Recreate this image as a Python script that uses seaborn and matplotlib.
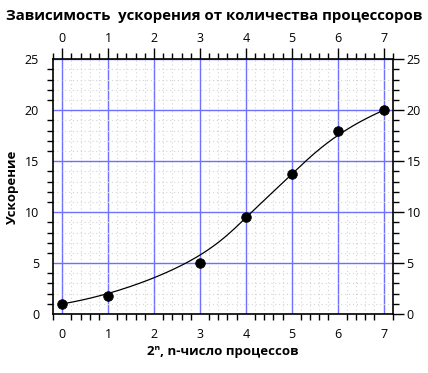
import numpy as np
import pandas as pd
import matplotlib
matplotlib.use("Agg")
import matplotlib.pyplot as plt
import seaborn as sns
from matplotlib.ticker import MultipleLocator

# data
n_values = [0, 1, 3, 4, 5, 6, 7]
speedup = [1.0, 1.75, 5.0, 9.5, 13.7, 18.0, 20.0]
title = "Зависимость  ускорения от количества процессоров"
xlabel = "2ⁿ, n-число процессов"
ylabel = "Ускорение"

sns.set_theme(style="white")
plt.rcParams['font.family'] = ['Open Sans', 'DejaVu Sans']


def bspline(points, k=3, num=400):
    """Clamped uniform B-spline using the data points as control points."""
    P = np.asarray(points, float)
    n = len(P)
    t = np.concatenate([np.zeros(k + 1), np.arange(1, n - k), np.full(k + 1, n - k)]).astype(float)
    us = np.linspace(0, n - k, num)
    us[-1] -= 1e-9
    out = []
    for u in us:
        N = np.array([1.0 if t[i] <= u < t[i + 1] else 0.0 for i in range(len(t) - 1)])
        for d in range(1, k + 1):
            Nn = np.zeros(len(t) - 1 - d)
            for i in range(len(Nn)):
                a = 0.0 if t[i + d] == t[i] else (u - t[i]) / (t[i + d] - t[i]) * N[i]
                b = 0.0 if t[i + d + 1] == t[i + 1] else (t[i + d + 1] - u) / (t[i + d + 1] - t[i + 1]) * N[i + 1]
                Nn[i] = a + b
            N = Nn
        out.append(N @ P)
    return np.array(out)


c = bspline(np.column_stack([n_values, speedup]))
curve = pd.DataFrame({"x": c[:, 0], "y": c[:, 1]})
pts = pd.DataFrame({"x": n_values, "y": speedup})

fig = plt.figure(figsize=(4.28, 3.73), dpi=100)
ax = fig.add_axes([0.1238, 0.158, 0.7938, 0.683])

ax.set_xlim(-0.2, 7.2)
ax.set_ylim(0, 25)
ax.xaxis.set_major_locator(MultipleLocator(1))
ax.xaxis.set_minor_locator(MultipleLocator(0.2))
ax.yaxis.set_major_locator(MultipleLocator(5))
ax.yaxis.set_minor_locator(MultipleLocator(1))

ax.grid(which="minor", color="#d4d4d4", linestyle=(0, (1, 2.5)), linewidth=0.8)
ax.grid(which="major", color="#7070ff", linestyle="-", linewidth=1.0)
ax.set_axisbelow(True)

sns.lineplot(data=curve, x="x", y="y", ax=ax, color="black", linewidth=0.9, sort=False, zorder=3)
sns.scatterplot(data=pts, x="x", y="y", ax=ax, color="black", s=48, edgecolor="black", zorder=4)

for s in ax.spines.values():
    s.set_color("black")
    s.set_linewidth(1.2)

ax.tick_params(which="major", direction="out", length=8, width=1, colors="black",
               labelsize=9, top=True, right=True, labeltop=True, labelright=True, pad=2)
ax.tick_params(which="minor", direction="out", length=4.5, width=1, colors="black",
               top=True, right=True, bottom=True, left=True)

ax.set_xlabel(xlabel, fontsize=9.5, fontweight="bold", color="black", labelpad=3)
ax.set_ylabel(ylabel, fontsize=9.5, fontweight="bold", color="black", labelpad=4)
fig.suptitle(title, fontsize=10.8, fontweight="bold", color="black", x=0.5, y=0.977)

fig.savefig("out.png", dpi=100, facecolor="white")
